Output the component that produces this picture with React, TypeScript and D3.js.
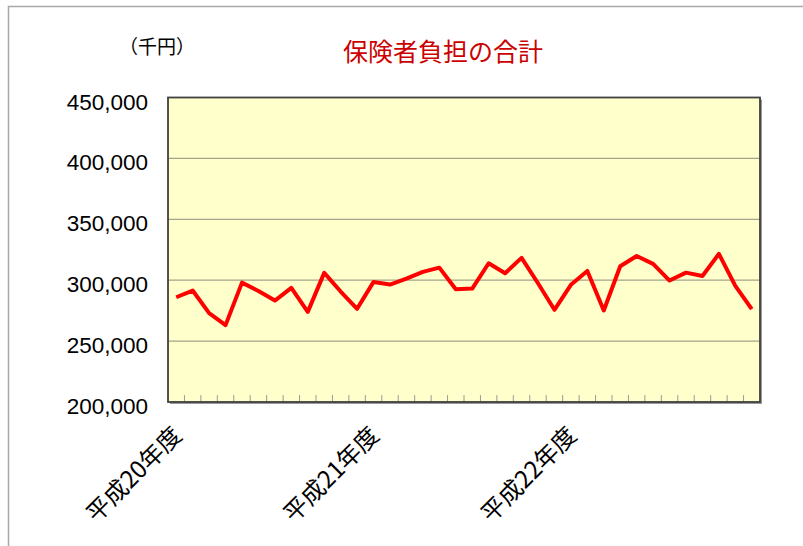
import React from 'react';
import * as d3 from 'd3';

// fiscal years and months (April start)
const years = ['平成20年度', '平成21年度', '平成22年度'];
const months = ['4月', '5月', '6月', '7月', '8月', '9月', '10月', '11月', '12月', '1月', '2月', '3月'];
const categories = years.flatMap((y) => months.map((m) => `${y} ${m}`));

// 保険者負担の合計（千円）
const values = [
  286000, 291500, 273000, 263100, 298000, 291200, 283300, 293700, 274000, 306000, 290700, 276500,
  298600, 296400, 301300, 306800, 310300, 292600, 293100, 313900, 305700, 318300, 297500, 275700,
  296200, 307600, 275100, 311500, 319900, 313400, 299700, 306200, 303500, 321600, 295300, 276200,
];

const yTicks = [200000, 250000, 300000, 350000, 400000, 450000];

const W = 803;
const H = 546;
const left = 168;
const right = 760;
const top = 97.5;
const bottom = 402;

const App: React.FC = () => {
  const x = d3.scaleBand<string>().domain(categories).range([left, right]).padding(0);
  const y = d3.scaleLinear().domain([200000, 450000]).range([bottom, top]);
  const fmt = d3.format(',');

  const line = d3
    .line<number>()
    .x((_, i) => (x(categories[i]) || 0) + x.bandwidth() / 2)
    .y((d) => y(d));

  const cjk = '"Noto Sans CJK JP", "Noto Sans", sans-serif';

  return (
    <svg width={W} height={H} style={{ position: 'absolute', left: 0, top: 0, background: '#fff' }}>
      {/* outer chart border */}
      <rect x={8.5} y={6.5} width={900} height={600} fill="none" stroke="#a8a8a8" strokeWidth={1.5} />

      <text x={157} y={54} fontFamily={cjk} fontSize={19} textAnchor="middle" fill="#000">
        （千円）
      </text>
      <text x={443} y={61} fontFamily={cjk} fontSize={25} textAnchor="middle" fill="#cc0000">
        保険者負担の合計
      </text>

      {/* plot area */}
      <rect x={left + 2} y={top + 2} width={right - left} height={bottom - top} fill="#9a9a9a" />
      <rect x={left} y={top} width={right - left} height={bottom - top} fill="#ffffcc" />

      {yTicks.slice(1, -1).map((t) => (
        <line key={t} x1={left} x2={right} y1={y(t)} y2={y(t)} stroke="#a3a38a" strokeWidth={1.2} />
      ))}

      {categories.slice(1).map((c) => (
        <line
          key={c}
          x1={x(c)}
          x2={x(c)}
          y1={bottom}
          y2={bottom - 7}
          stroke="#9a9a9a"
          strokeWidth={1}
        />
      ))}

      <rect x={left} y={top} width={right - left} height={bottom - top} fill="none" stroke="#404040" strokeWidth={1.8} />

      <path d={line(values) || ''} fill="none" stroke="#ff0000" strokeWidth={4} strokeLinejoin="round" />

      {yTicks.map((t) => (
        <text
          key={t}
          x={148}
          y={y(t) + 12}
          fontFamily='"Liberation Sans", Arial, sans-serif'
          fontSize={22.5}
          textAnchor="end"
          fill="#000"
        >
          {fmt(t)}
        </text>
      ))}

      {years.map((yl) => {
        const cx = (x(`${yl} ${months[0]}`) || 0) + x.bandwidth() / 2;
        return (
          <text
            key={yl}
            transform={`translate(${cx + 7},${437}) rotate(-45)`}
            fontFamily={cjk}
            fontSize={24}
            textAnchor="end"
            fill="#000"
          >
            {yl}
          </text>
        );
      })}
    </svg>
  );
};

export default App;
